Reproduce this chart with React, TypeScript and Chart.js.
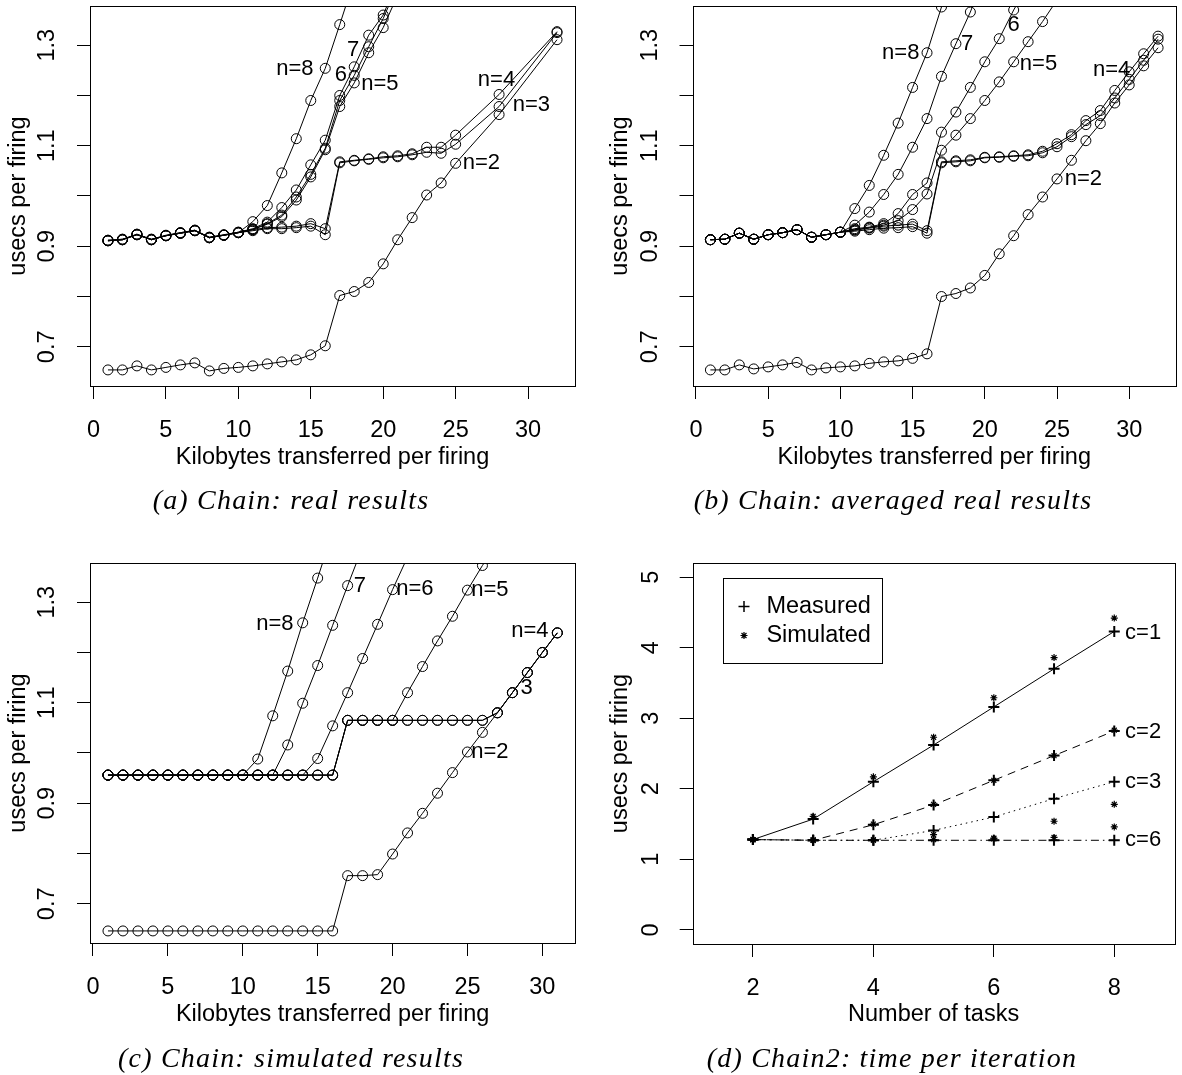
import React, { useEffect, useRef } from "react";
import { Chart, registerables } from "chart.js";

Chart.register(...registerables);

const FONT = "'Liberation Sans', Arial, Helvetica, sans-serif";
const SERIF = "'Liberation Serif', 'Times New Roman', serif";

// ---------- Panel (a): Chain, real results ----------
const xsA = [1, 2, 3, 4, 5, 6, 7, 8, 9, 10, 11, 12, 13, 14, 15, 16, 17, 18, 19, 20, 21, 22, 23, 24, 25, 28, 32];
const aN2 = [0.654, 0.654, 0.662, 0.654, 0.659, 0.664, 0.668, 0.652, 0.657, 0.659, 0.662, 0.666, 0.670, 0.674, 0.684, 0.702, 0.802, 0.810, 0.828, 0.865, 0.913, 0.957, 1.002, 1.026, 1.065, 1.162, 1.311];
const aN3 = [0.911, 0.913, 0.923, 0.913, 0.921, 0.926, 0.931, 0.917, 0.922, 0.927, 0.931, 0.935, 0.935, 0.937, 0.940, 0.923, 1.066, 1.070, 1.073, 1.076, 1.078, 1.082, 1.087, 1.085, 1.103, 1.178, 1.325];
const aN4 = [0.912, 0.914, 0.924, 0.914, 0.922, 0.927, 0.932, 0.918, 0.923, 0.928, 0.933, 0.937, 0.938, 0.940, 0.945, 0.935, 1.068, 1.071, 1.074, 1.078, 1.080, 1.084, 1.097, 1.097, 1.121, 1.202, 1.327];
const aN5 = [0.911, 0.913, 0.923, 0.913, 0.921, 0.926, 0.931, 0.917, 0.922, 0.927, 0.933, 0.944, 0.959, 0.992, 1.038, 1.092, 1.178, 1.225, 1.285, 1.335, 1.40];
const aN6 = [0.912, 0.913, 0.924, 0.913, 0.921, 0.926, 0.932, 0.917, 0.922, 0.927, 0.934, 0.945, 0.962, 0.998, 1.043, 1.095, 1.190, 1.240, 1.297, 1.353, 1.42];
const aN7 = [0.911, 0.914, 0.923, 0.914, 0.921, 0.927, 0.931, 0.918, 0.922, 0.928, 0.935, 0.948, 0.977, 1.012, 1.062, 1.111, 1.200, 1.257, 1.320, 1.360, 1.43];
const aN8 = [0.911, 0.913, 0.923, 0.913, 0.921, 0.926, 0.931, 0.917, 0.922, 0.927, 0.949, 0.981, 1.046, 1.114, 1.190, 1.254, 1.341, 1.43];
const labelsA = [
  { x: 13.9, y: 1.2535, text: "n=8" },
  { x: 17.93, y: 1.29, text: "7" },
  { x: 17.08, y: 1.24, text: "6" },
  { x: 19.77, y: 1.2236, text: "n=5" },
  { x: 27.82, y: 1.2316, text: "n=4" },
  { x: 30.23, y: 1.1804, text: "n=3" },
  { x: 26.78, y: 1.0662, text: "n=2" },
];

// ---------- Panel (b): Chain, averaged real results ----------
const xsB = [1, 2, 3, 4, 5, 6, 7, 8, 9, 10, 11, 12, 13, 14, 15, 16, 17, 18, 19, 20, 21, 22, 23, 24, 25, 26, 27, 28, 29, 30, 31, 32];
const bN2 = [0.654, 0.654, 0.664, 0.656, 0.660, 0.664, 0.669, 0.654, 0.658, 0.660, 0.662, 0.667, 0.670, 0.672, 0.677, 0.686, 0.800, 0.806, 0.817, 0.842, 0.885, 0.921, 0.963, 0.998, 1.034, 1.071, 1.110, 1.144, 1.185, 1.221, 1.259, 1.295];
const bN3 = [0.913, 0.914, 0.926, 0.914, 0.923, 0.927, 0.933, 0.918, 0.923, 0.928, 0.930, 0.933, 0.936, 0.937, 0.939, 0.926, 1.066, 1.068, 1.070, 1.076, 1.077, 1.079, 1.080, 1.086, 1.098, 1.118, 1.142, 1.160, 1.195, 1.232, 1.270, 1.312];
const bN4 = [0.913, 0.914, 0.926, 0.914, 0.923, 0.927, 0.933, 0.918, 0.923, 0.928, 0.932, 0.936, 0.940, 0.942, 0.944, 0.931, 1.068, 1.070, 1.072, 1.077, 1.078, 1.080, 1.082, 1.089, 1.104, 1.122, 1.150, 1.170, 1.210, 1.247, 1.283, 1.318];
const bN5 = [0.913, 0.914, 0.926, 0.914, 0.923, 0.927, 0.933, 0.918, 0.923, 0.928, 0.933, 0.937, 0.942, 0.951, 0.973, 1.004, 1.091, 1.121, 1.154, 1.190, 1.227, 1.267, 1.307, 1.347, 1.39];
const bN6 = [0.913, 0.914, 0.926, 0.914, 0.923, 0.927, 0.933, 0.918, 0.923, 0.928, 0.935, 0.938, 0.945, 0.965, 1.003, 1.026, 1.127, 1.167, 1.216, 1.267, 1.313, 1.370, 1.42];
const bN7 = [0.913, 0.914, 0.926, 0.914, 0.923, 0.927, 0.933, 0.918, 0.923, 0.928, 0.942, 0.968, 1.003, 1.043, 1.097, 1.154, 1.238, 1.303, 1.366, 1.44];
const bN8 = [0.913, 0.914, 0.926, 0.914, 0.923, 0.927, 0.933, 0.918, 0.923, 0.928, 0.975, 1.021, 1.081, 1.145, 1.216, 1.285, 1.376, 1.47];
const labelsB = [
  { x: 14.18, y: 1.2847, text: "n=8" },
  { x: 18.78, y: 1.3033, text: "7" },
  { x: 22.0, y: 1.34, text: "6" },
  { x: 23.72, y: 1.2635, text: "n=5" },
  { x: 28.78, y: 1.25, text: "n=4" },
  { x: 26.83, y: 1.0343, text: "n=2" },
];

// ---------- Panel (c): Chain, simulated results ----------
const xsC = [1, 2, 3, 4, 5, 6, 7, 8, 9, 10, 11, 12, 13, 14, 15, 16, 17, 18, 19, 20, 21, 22, 23, 24, 25, 26, 27, 28, 29, 30, 31];
const cN2 = [0.646, 0.646, 0.646, 0.646, 0.646, 0.646, 0.646, 0.646, 0.646, 0.646, 0.646, 0.646, 0.646, 0.646, 0.646, 0.646, 0.756, 0.756, 0.758, 0.799, 0.841, 0.880, 0.920, 0.961, 1.002, 1.041, 1.080, 1.120, 1.160, 1.200, 1.239];
const cN3 = [0.956, 0.956, 0.956, 0.956, 0.956, 0.956, 0.956, 0.956, 0.956, 0.956, 0.956, 0.956, 0.956, 0.956, 0.956, 0.956, 1.065, 1.065, 1.065, 1.065, 1.065, 1.065, 1.065, 1.065, 1.065, 1.065, 1.080, 1.120, 1.160, 1.200, 1.239];
const cN4 = [0.956, 0.956, 0.956, 0.956, 0.956, 0.956, 0.956, 0.956, 0.956, 0.956, 0.956, 0.956, 0.956, 0.956, 0.956, 0.956, 1.065, 1.065, 1.065, 1.065, 1.065, 1.065, 1.065, 1.065, 1.065, 1.065, 1.080, 1.120, 1.160, 1.200, 1.239];
const cN5 = [0.956, 0.956, 0.956, 0.956, 0.956, 0.956, 0.956, 0.956, 0.956, 0.956, 0.956, 0.956, 0.956, 0.956, 0.956, 0.956, 1.065, 1.065, 1.065, 1.065, 1.120, 1.172, 1.223, 1.272, 1.324, 1.373, 1.42];
const cN6 = [0.956, 0.956, 0.956, 0.956, 0.956, 0.956, 0.956, 0.956, 0.956, 0.956, 0.956, 0.956, 0.956, 0.956, 0.989, 1.054, 1.120, 1.188, 1.256, 1.325, 1.39];
const cN7 = [0.956, 0.956, 0.956, 0.956, 0.956, 0.956, 0.956, 0.956, 0.956, 0.956, 0.956, 0.956, 1.016, 1.099, 1.174, 1.254, 1.333, 1.41];
const cN8 = [0.956, 0.956, 0.956, 0.956, 0.956, 0.956, 0.956, 0.956, 0.956, 0.956, 0.988, 1.074, 1.163, 1.259, 1.348, 1.44];
const labelsC = [
  { x: 12.14, y: 1.2558, text: "n=8" },
  { x: 17.82, y: 1.3318, text: "7" },
  { x: 21.49, y: 1.3266, text: "n=6" },
  { x: 26.5, y: 1.3238, text: "n=5" },
  { x: 29.17, y: 1.2425, text: "n=4" },
  { x: 28.95, y: 1.13, text: "3" },
  { x: 26.5, y: 1.0024, text: "n=2" },
];

// ---------- Panel (d): Chain2, time per iteration ----------
const tasksD = [2, 3, 4, 5, 6, 7, 8];
const measC1 = [1.28, 1.57, 2.10, 2.62, 3.16, 3.70, 4.23];
const measC2 = [1.28, 1.27, 1.49, 1.77, 2.12, 2.47, 2.82];
const measC3 = [1.28, 1.27, 1.27, 1.41, 1.60, 1.86, 2.10];
const measC6 = [1.28, 1.27, 1.27, 1.27, 1.27, 1.27, 1.27];
const simC1 = [1.28, 1.61, 2.17, 2.73, 3.29, 3.86, 4.42];
const simC2 = [1.28, 1.28, 1.50, 1.78, 2.12, 2.47, 2.83];
const simC3 = [1.28, 1.27, 1.28, 1.35, 1.30, 1.54, 1.78];
const simC6 = [1.28, 1.27, 1.27, 1.28, 1.29, 1.31, 1.46];
const labelsD = [
  { x: 8.18, y: 4.21, text: "c=1", align: "left" },
  { x: 8.18, y: 2.81, text: "c=2", align: "left" },
  { x: 8.18, y: 2.09, text: "c=3", align: "left" },
  { x: 8.18, y: 1.27, text: "c=6", align: "left" },
];

const kbTicks = [0, 5, 10, 15, 20, 25, 30];
const usecTicks = [0.7, 0.8, 0.9, 1.0, 1.1, 1.2, 1.3];
const usecShown = [0.7, 0.9, 1.1, 1.3];
const taskTicks = [2, 4, 6, 8];
const timeTicks = [0, 1, 2, 3, 4, 5];

type Lbl = { x: number; y: number; text: string; align?: string };

const AXIS_FONT = { family: FONT, size: 23.5 };

function labelsPlugin(items: Lbl[]) {
  return {
    id: "textLabels",
    afterDatasetsDraw(chart: any) {
      const { ctx } = chart;
      const xs = chart.scales.x;
      const ys = chart.scales.y;
      ctx.save();
      ctx.fillStyle = "#000";
      ctx.font = `22px ${FONT}`;
      ctx.textBaseline = "middle";
      for (const l of items) {
        ctx.textAlign = (l.align as CanvasTextAlign) || "center";
        ctx.fillText(l.text, xs.getPixelForValue(l.x), ys.getPixelForValue(l.y));
      }
      ctx.restore();
    },
  };
}

const boxPlugin = {
  id: "rbox",
  afterDraw(chart: any) {
    const { ctx, chartArea } = chart;
    const l = Math.round(chartArea.left);
    const t = Math.round(chartArea.top);
    const r = Math.round(chartArea.right);
    const b = Math.round(chartArea.bottom);
    ctx.save();
    ctx.strokeStyle = "#000";
    ctx.lineWidth = 1;
    ctx.strokeRect(l + 0.5, t + 0.5, r - l, b - t);
    ctx.restore();
  },
};

const legendPlugin = {
  id: "rlegend",
  afterDraw(chart: any) {
    const { ctx, chartArea } = chart;
    const bx = Math.round(chartArea.left + 30.6);
    const by = Math.round(chartArea.top + 15.3);
    ctx.save();
    ctx.strokeStyle = "#000";
    ctx.lineWidth = 1;
    ctx.strokeRect(bx + 0.5, by + 0.5, 159, 85);
    const mx = bx + 21;
    const y1 = by + 28.5;
    const y2 = by + 57.5;
    ctx.lineWidth = 1.5;
    ctx.beginPath();
    ctx.moveTo(mx - 5.5, y1);
    ctx.lineTo(mx + 5.5, y1);
    ctx.moveTo(mx, y1 - 5.5);
    ctx.lineTo(mx, y1 + 5.5);
    ctx.stroke();
    ctx.lineWidth = 1.2;
    ctx.beginPath();
    const r = 3.5;
    for (let k = 0; k < 4; k++) {
      const a = (k * Math.PI) / 4;
      ctx.moveTo(mx - Math.sin(a) * r, y2 - Math.cos(a) * r);
      ctx.lineTo(mx + Math.sin(a) * r, y2 + Math.cos(a) * r);
    }
    ctx.stroke();
    ctx.fillStyle = "#000";
    ctx.font = `23.5px ${FONT}`;
    ctx.textAlign = "left";
    ctx.textBaseline = "middle";
    ctx.fillText("Measured", bx + 43.4, y1);
    ctx.fillText("Simulated", bx + 43.4, y2);
    ctx.restore();
  },
};

function gridOpts() {
  return { display: true, drawOnChartArea: false, drawTicks: true, tickLength: 13, color: "#000", lineWidth: 1 };
}

function zeroPad(s: any) {
  s.paddingTop = 0;
  s.paddingBottom = 0;
  s.paddingLeft = 0;
  s.paddingRight = 0;
}

function xScale(min: number, max: number, tickVals: number[], title: string, h: number, titlePad: number) {
  return {
    type: "linear",
    min,
    max,
    afterBuildTicks: (s: any) => {
      s.ticks = tickVals.map((v) => ({ value: v }));
    },
    afterFit: (s: any) => {
      s.height = h;
      zeroPad(s);
    },
    grid: gridOpts(),
    border: { display: false },
    ticks: {
      font: AXIS_FONT,
      color: "#000",
      padding: 17,
      autoSkip: false,
      maxRotation: 0,
      minRotation: 0,
      callback: (v: any) => String(v),
    },
    title: { display: true, text: title, font: AXIS_FONT, color: "#000", padding: { top: 0, bottom: titlePad } },
  };
}

function yScale(min: number, max: number, tickVals: number[], shown: number[], fmt: (v: number) => string, w: number, pad: number) {
  return {
    type: "linear",
    min,
    max,
    afterBuildTicks: (s: any) => {
      s.ticks = tickVals.map((v) => ({ value: v }));
    },
    afterFit: (s: any) => {
      s.width = w;
      zeroPad(s);
    },
    grid: gridOpts(),
    border: { display: false },
    ticks: {
      font: AXIS_FONT,
      color: "#000",
      padding: pad,
      autoSkip: false,
      minRotation: 90,
      maxRotation: 90,
      crossAlign: "center",
      callback: (v: any) => (shown.indexOf(v) >= 0 ? fmt(v) : ""),
    },
    title: { display: true, text: "usecs per firing", font: AXIS_FONT, color: "#000", padding: { top: 4.2, bottom: 0 } },
  };
}

function circleConfig(
  xs: number[],
  series: number[][],
  labels: Lbl[],
  xMin: number,
  xMax: number,
  pad: { left: number; top: number; right: number },
  xHeight: number,
  titlePad: number
): any {
  return {
    type: "line",
    data: {
      datasets: series.map((vals) => ({
        data: vals.map((v, i) => ({ x: xs[i], y: v })),
        borderColor: "#000",
        borderWidth: 1,
        pointStyle: "circle",
        pointRadius: 5,
        pointBorderWidth: 1,
        pointBorderColor: "#000",
        pointBackgroundColor: "rgba(0,0,0,0)",
        fill: false,
        tension: 0,
      })),
    },
    options: {
      animation: false,
      responsive: false,
      maintainAspectRatio: false,
      devicePixelRatio: 1,
      events: [],
      layout: { padding: { left: pad.left, top: pad.top, right: pad.right, bottom: 0 } },
      plugins: { legend: { display: false }, tooltip: { enabled: false } },
      scales: {
        x: xScale(xMin, xMax, kbTicks, "Kilobytes transferred per firing", xHeight, titlePad),
        y: yScale(0.622, 1.378, usecTicks, usecShown, (v) => v.toFixed(1), 90, 13),
      },
    },
    plugins: [labelsPlugin(labels), boxPlugin],
  };
}

function chain2Config(): any {
  const measured = [
    { vals: measC1, dash: [] as number[] },
    { vals: measC2, dash: [8, 6] },
    { vals: measC3, dash: [1.5, 4] },
    { vals: measC6, dash: [1.5, 4, 8, 4] },
  ];
  const simulated = [simC1, simC2, simC3, simC6];
  const datasets: any[] = [];
  measured.forEach((m) => {
    datasets.push({
      data: m.vals.map((v, i) => ({ x: tasksD[i], y: v })),
      borderColor: "#000",
      borderWidth: 1,
      borderDash: m.dash,
      pointStyle: "cross",
      pointRadius: 5.5,
      pointBorderWidth: 2,
      pointBorderColor: "#000",
      fill: false,
      tension: 0,
    });
  });
  simulated.forEach((s) => {
    datasets.push({
      data: s.map((v, i) => ({ x: tasksD[i], y: v })),
      showLine: false,
      borderColor: "#000",
      pointStyle: "star",
      pointRadius: 3.5,
      pointBorderWidth: 1.2,
      pointBorderColor: "#000",
    });
  });
  return {
    type: "line",
    data: { datasets },
    options: {
      animation: false,
      responsive: false,
      maintainAspectRatio: false,
      devicePixelRatio: 1,
      events: [],
      layout: { padding: { left: 11.7, top: 23, right: 4.5, bottom: 0 } },
      plugins: { legend: { display: false }, tooltip: { enabled: false } },
      scales: {
        x: xScale(1, 9, taskTicks, "Number of tasks", 131, 46.2),
        y: yScale(-0.2, 5.2, timeTicks, timeTicks, (v) => String(v), 90, 22),
      },
    },
    plugins: [labelsPlugin(labelsD), boxPlugin, legendPlugin],
  };
}

function ChartPanel(props: { left: number; top: number; width: number; height: number; make: () => any }) {
  const ref = useRef<HTMLCanvasElement | null>(null);
  useEffect(() => {
    if (!ref.current) return;
    const chart = new Chart(ref.current, props.make());
    return () => chart.destroy();
  }, []);
  return (
    <canvas
      ref={ref}
      width={props.width}
      height={props.height}
      style={{ position: "absolute", left: props.left, top: props.top, width: props.width, height: props.height }}
    />
  );
}

function Caption(props: { cx: number; cy: number; text: string }) {
  return (
    <div
      style={{
        position: "absolute",
        left: props.cx - 300,
        top: props.cy - 18,
        width: 600,
        height: 36,
        lineHeight: "36px",
        textAlign: "center",
        fontFamily: SERIF,
        fontStyle: "italic",
        fontSize: 28,
        letterSpacing: "1.2px",
        whiteSpace: "nowrap",
        color: "#000",
      }}
    >
      {props.text}
    </div>
  );
}

export default function App() {
  return (
    <div style={{ position: "absolute", left: 0, top: 0, width: 1182, height: 1075, background: "#fff", overflow: "hidden" }}>
      <ChartPanel
        left={0}
        top={0}
        width={591}
        height={540}
        make={() =>
          circleConfig(xsA, [aN2, aN3, aN4, aN5, aN6, aN7, aN8], labelsA, -0.24, 33.24, { left: 0, top: 5, right: 16 }, 154, 68.2)
        }
      />
      <ChartPanel
        left={591}
        top={0}
        width={591}
        height={540}
        make={() =>
          circleConfig(xsB, [bN2, bN3, bN4, bN5, bN6, bN7, bN8], labelsB, -0.24, 33.24, { left: 11.5, top: 5, right: 4.5 }, 154, 68.2)
        }
      />
      <ChartPanel
        left={0}
        top={540}
        width={591}
        height={535}
        make={() =>
          circleConfig(xsC, [cN2, cN3, cN4, cN5, cN6, cN7, cN8], labelsC, -0.2, 32.2, { left: 0, top: 23, right: 15.7 }, 132, 46.2)
        }
      />
      <ChartPanel left={591} top={540} width={591} height={535} make={chain2Config} />
      <Caption cx={291} cy={500} text="(a) Chain: real results" />
      <Caption cx={893} cy={500} text="(b) Chain: averaged real results" />
      <Caption cx={291} cy={1058} text="(c) Chain: simulated results" />
      <Caption cx={892} cy={1058} text="(d) Chain2: time per iteration" />
    </div>
  );
}
